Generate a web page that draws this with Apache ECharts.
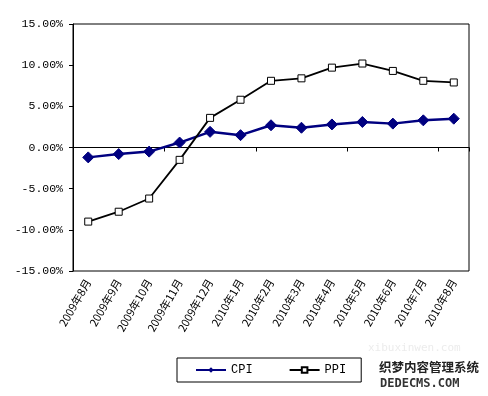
<!DOCTYPE html>
<html><head><meta charset="utf-8">
<script src="https://cdn.jsdelivr.net/npm/echarts@6/dist/echarts.min.js"></script>
<style>html,body{margin:0;padding:0;background:#fff}#c{width:488px;height:396px}</style>
</head><body><div id="c"></div>
<script>
const categories = ['2009年8月','2009年9月','2009年10月','2009年11月','2009年12月','2010年1月','2010年2月','2010年3月','2010年4月','2010年5月','2010年6月','2010年7月','2010年8月'];
const cpi = [-1.2, -0.8, -0.5, 0.6, 1.9, 1.5, 2.7, 2.4, 2.8, 3.1, 2.9, 3.3, 3.5];
const ppi = [-9.0, -7.8, -6.2, -1.5, 3.6, 5.8, 8.1, 8.4, 9.7, 10.2, 9.3, 8.1, 7.9];
const yTicks = [-15, -10, -5, 0, 5, 10, 15];

const chart = echarts.init(document.getElementById('c'), null, {renderer: 'canvas'});
const monoFont = '"Liberation Mono", "DejaVu Sans Mono", monospace';
chart.setOption({
  animation: false,
  backgroundColor: '#fff',
  grid: {left: 73, right: 19, top: 24, bottom: 125, show: true, borderColor: '#000', borderWidth: 1, backgroundColor: '#fff'},
  xAxis: [{
    type: 'category', data: categories, position: 'bottom', boundaryGap: true,
    axisLine: {show: false, onZero: false}, axisTick: {show: false},
    axisLabel: {rotate: 60, margin: 9, color: '#000', fontSize: 11, fontFamily: '"Noto Sans CJK SC", sans-serif', interval: 0}
  }, {
    type: 'category', data: categories, position: 'top', boundaryGap: true,
    axisLine: {show: true, onZero: true, lineStyle: {color: '#000', width: 1}},
    axisTick: {show: true, inside: true, length: 4, lineStyle: {color: '#000'}},
    axisLabel: {show: false}
  }],
  yAxis: {
    type: 'value', min: yTicks[0], max: yTicks[yTicks.length - 1], interval: 5,
    axisLine: {show: true, lineStyle: {color: '#000'}},
    axisTick: {show: true, length: 4, lineStyle: {color: '#000'}},
    splitLine: {show: false},
    axisLabel: {margin: 10, color: '#000', fontSize: 11.5, fontFamily: monoFont,
      formatter: v => v.toFixed(2) + '%'}
  },
  legend: {
    left: 177, top: 358, padding: [6, 15, 6, 18], itemGap: 36,
    borderColor: '#000', borderWidth: 1, backgroundColor: '#fff',
    itemWidth: 30, itemHeight: 7,
    textStyle: {color: '#000', fontSize: 12, fontFamily: monoFont},
    data: ['CPI', 'PPI']
  },
  series: [{
    name: 'CPI', type: 'line', data: cpi, xAxisIndex: 0,
    symbol: 'diamond', symbolSize: 11,
    lineStyle: {color: '#000080', width: 2.5},
    itemStyle: {color: '#000080', borderColor: '#000080'}
  }, {
    name: 'PPI', type: 'line', data: ppi, xAxisIndex: 0,
    symbol: 'rect', symbolSize: 7,
    lineStyle: {color: '#000', width: 1.8},
    itemStyle: {color: '#fff', borderColor: '#000', borderWidth: 1}
  }],
  graphic: [
    {type: 'text', left: 368, top: 343, style: {text: 'xibuxinwen.com', fill: '#ececec', font: '11px "DejaVu Sans Mono", monospace'}},
    {type: 'text', left: 379, top: 361, style: {text: '织梦内容管理系统', fill: '#222', font: 'bold 12.5px "Noto Sans CJK SC", sans-serif'}},
    {type: 'text', left: 380, top: 378, style: {text: 'DEDECMS.COM', fill: '#333', font: 'bold 12px "DejaVu Sans Mono", monospace'}}
  ]
});
</script></body></html>
